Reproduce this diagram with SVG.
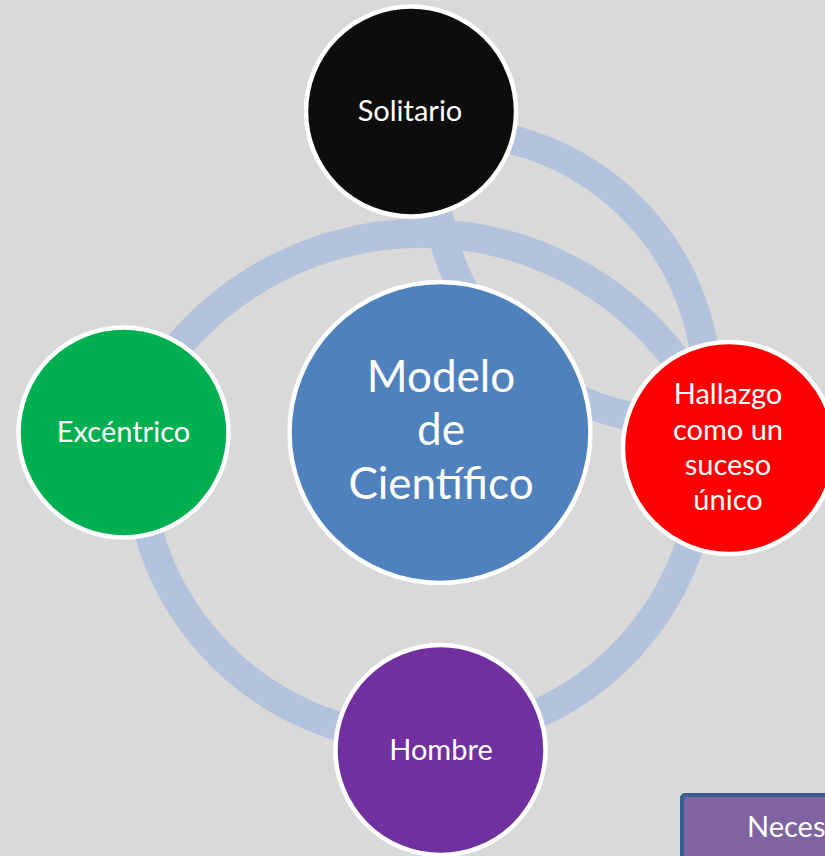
<svg xmlns="http://www.w3.org/2000/svg" width="825" height="856" viewBox="0 0 825 856">
  <style>
    .arc { fill: none; stroke: #b3c2dd; stroke-width: 29; }
    .node { stroke: #ffffff; stroke-width: 4.5; }
    .lbl { font-family: Lato, "Open Sans", "Liberation Sans", sans-serif; fill: #ffffff; text-anchor: middle; }
    .sm { font-size: 29px; }
    .lg { font-size: 44px; }
  </style>
  <rect x="0" y="0" width="825" height="856" fill="#d9d9d9"/>
  <g id="connectors">
    <path class="arc" d="M 139 433 A 283 283 0 1 0 704 448"/>
    <path class="arc" d="M 126 433 A 319 319 0 0 1 724 450"/>
    <path class="arc" d="M 414 134 A 259 259 0 0 1 702 443"/>
    <path class="arc" d="M 442 119 A 246 246 0 0 0 724 418"/>
  </g>
  <g id="node-solitario">
    <circle class="node" cx="411" cy="111.5" r="105" fill="#0d0d0d"/>
    <text class="lbl sm" x="410" y="121">Solitario</text>
  </g>
  <g id="node-modelo">
    <circle class="node" cx="440" cy="432.5" r="150.5" fill="#4f81bd"/>
    <text class="lbl lg" x="441" y="392">Modelo</text>
    <text class="lbl lg" x="441" y="445">de</text>
    <text class="lbl lg" x="441" y="499">Científico</text>
  </g>
  <g id="node-excentrico">
    <circle class="node" cx="123.5" cy="432.5" r="105" fill="#00b050"/>
    <text class="lbl sm" x="123.5" y="442">Excéntrico</text>
  </g>
  <g id="node-hallazgo">
    <circle class="node" cx="729" cy="448" r="106" fill="#ff0000"/>
    <text class="lbl sm" x="728" y="404">Hallazgo</text>
    <text class="lbl sm" x="728" y="440">como un</text>
    <text class="lbl sm" x="728" y="475">suceso</text>
    <text class="lbl sm" x="728" y="510">único</text>
  </g>
  <g id="node-hombre">
    <circle class="node" cx="440.5" cy="750" r="105" fill="#7030a0"/>
    <text class="lbl sm" x="441" y="760">Hombre</text>
  </g>
  <g id="node-box">
    <rect x="682" y="795" width="200" height="100" rx="3" fill="#8064a2" stroke="#3a5e8c" stroke-width="4"/>
    <text class="lbl sm" x="747" y="837" style="text-anchor:start">Neces</text>
  </g>
</svg>
